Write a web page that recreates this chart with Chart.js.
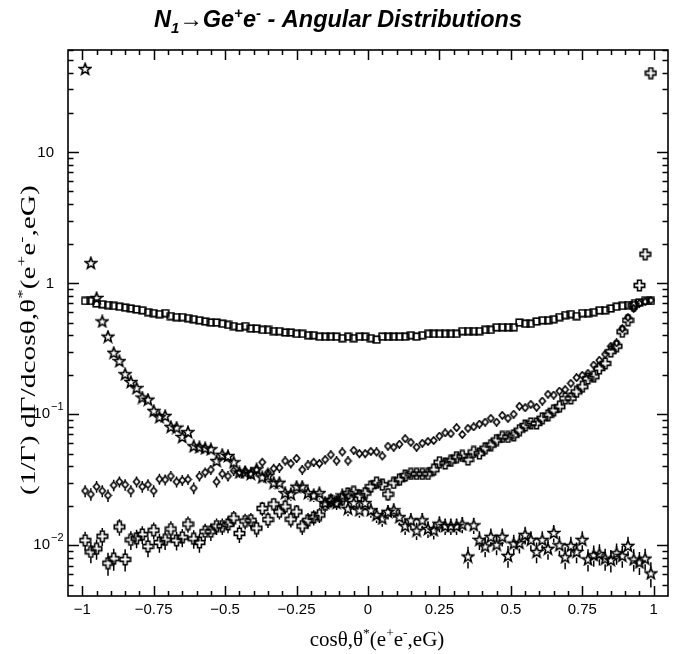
<!DOCTYPE html>
<html>
<head>
<meta charset="utf-8">
<script src="https://cdn.jsdelivr.net/npm/chart.js@4.4.1/dist/chart.umd.min.js"></script>
<style>
  html, body { margin: 0; padding: 0; background: #fff; }
  canvas { display: block; }
</style>
</head>
<body>
<canvas id="chart" width="673" height="654"></canvas>
<script>
'use strict';

// 100 bins in cos(theta*) from -1 to 1
var binLo = -1, binHi = 1, binCount = 100;

// open squares
var squareVals = [
  0.73, 0.73, 0.70, 0.69, 0.68, 0.67, 0.66, 0.65, 0.64, 0.63,
  0.62, 0.60, 0.59, 0.58, 0.59, 0.56, 0.55, 0.55, 0.54, 0.53,
  0.52, 0.51, 0.50, 0.50, 0.49, 0.48, 0.47, 0.46, 0.47, 0.45,
  0.45, 0.44, 0.44, 0.43, 0.43, 0.42, 0.42, 0.41, 0.41, 0.40,
  0.40, 0.39, 0.39, 0.39, 0.39, 0.38, 0.39, 0.38, 0.39, 0.39,
  0.38, 0.37, 0.39, 0.39, 0.39, 0.39, 0.39, 0.40, 0.39, 0.40,
  0.41, 0.41, 0.41, 0.41, 0.41, 0.41, 0.43, 0.43, 0.43, 0.43,
  0.44, 0.44, 0.46, 0.46, 0.46, 0.46, 0.50, 0.49, 0.49, 0.51,
  0.52, 0.52, 0.53, 0.55, 0.57, 0.58, 0.56, 0.59, 0.59, 0.60,
  0.62, 0.62, 0.64, 0.66, 0.67, 0.68, 0.68, 0.71, 0.73, 0.73
];

// open diamonds
var diamondVals = [
  0.026, 0.0245, 0.028, 0.026, 0.024, 0.0287, 0.0305, 0.029, 0.026, 0.0305,
  0.028, 0.029, 0.026, 0.032, 0.0316, 0.0337, 0.0305, 0.0313, 0.0318, 0.0273,
  0.0337, 0.036, 0.0377, 0.0305, 0.035, 0.0337, 0.037, 0.036, 0.037, 0.035,
  0.0375, 0.043, 0.036, 0.0385, 0.039, 0.044, 0.042, 0.046, 0.0377, 0.041,
  0.043, 0.042, 0.045, 0.049, 0.044, 0.0515, 0.044, 0.053, 0.050, 0.050,
  0.052, 0.0515, 0.048, 0.057, 0.056, 0.059, 0.065, 0.061, 0.056, 0.060,
  0.062, 0.063, 0.068, 0.072, 0.071, 0.079, 0.070, 0.078, 0.080, 0.084,
  0.087, 0.093, 0.087, 0.098, 0.093, 0.100, 0.115, 0.112, 0.119, 0.113,
  0.126, 0.142, 0.140, 0.150, 0.154, 0.172, 0.190, 0.198, 0.205, 0.237,
  0.258, 0.287, 0.330, 0.350, 0.450, 0.547, 0.640, 0.700, 0.720, 0.740
];

// open crosses
var crossVals = [
  0.0109, 0.0089, 0.0094, 0.0117, 0.0073, 0.0079, 0.0138, 0.0078, 0.0110, 0.0113,
  0.0121, 0.0098, 0.0130, 0.0105, 0.0110, 0.0133, 0.0109, 0.0115, 0.0145, 0.0112,
  0.0105, 0.0127, 0.0127, 0.0140, 0.0140, 0.0144, 0.0161, 0.0123, 0.0153, 0.0155,
  0.0135, 0.0191, 0.0157, 0.0206, 0.0180, 0.0197, 0.0158, 0.0180, 0.0140, 0.0155,
  0.0163, 0.0170, 0.0203, 0.0220, 0.0214, 0.0225, 0.0248, 0.0255, 0.0240, 0.0250,
  0.028, 0.030, 0.029, 0.0245, 0.0299, 0.0316, 0.034, 0.035, 0.035, 0.035,
  0.035, 0.0377, 0.043, 0.042, 0.044, 0.047, 0.048, 0.045, 0.0515, 0.050,
  0.055, 0.058, 0.0635, 0.067, 0.067, 0.069, 0.0755, 0.082, 0.085, 0.085,
  0.093, 0.098, 0.107, 0.114, 0.132, 0.132, 0.148, 0.162, 0.187, 0.193,
  0.223, 0.244, 0.300, 0.330, 0.425, 0.520, 0.680, 0.960, 1.66, 40
];

// open stars
var starVals = [
  43, 1.42, 0.77, 0.51, 0.39, 0.294, 0.254, 0.202, 0.176, 0.158,
  0.134, 0.129, 0.106, 0.095, 0.097, 0.080, 0.079, 0.067, 0.073, 0.057,
  0.056, 0.055, 0.054, 0.044, 0.049, 0.048, 0.043, 0.036, 0.036, 0.035,
  0.038, 0.033, 0.034, 0.030, 0.030, 0.025, 0.0245, 0.028, 0.028, 0.025,
  0.024, 0.025, 0.021, 0.022, 0.021, 0.024, 0.019, 0.021, 0.0185, 0.021,
  0.0185, 0.017, 0.016, 0.018, 0.0185, 0.0164, 0.014, 0.0155, 0.0129, 0.0155,
  0.0133, 0.013, 0.0146, 0.014, 0.014, 0.014, 0.0144, 0.0082, 0.0142, 0.011,
  0.0098, 0.0116, 0.0101, 0.0116, 0.0083, 0.0103, 0.0104, 0.012, 0.011, 0.0089,
  0.011, 0.0094, 0.0124, 0.010, 0.0081, 0.0099, 0.0089, 0.011, 0.0078, 0.0084,
  0.0086, 0.0079, 0.0077, 0.0087, 0.0083, 0.0099, 0.0078, 0.0074, 0.0079, 0.0061
];

// tick labels
var xTickValues = [-1, -0.75, -0.5, -0.25, 0, 0.25, 0.5, 0.75, 1];
var xTickLabels = ['\u22121', '\u22120.75', '\u22120.5', '\u22120.25', '0', '0.25', '0.5', '0.75', '1'];
var yTickValues = [0.01, 0.1, 1, 10];
var yTickBase = ['10', '10', '1', '10'];
var yTickExp = ['\u22122', '\u22121', '', ''];

// statistical error scale (abs error = sqrt(value * errScale))
var errScale = 2.9e-4;

var sansFont = '"Liberation Sans", Arial, Helvetica, sans-serif';
var serifFont = '"Liberation Serif", "Times New Roman", serif';

function binCenters() {
  var w = (binHi - binLo) / binCount, out = [];
  for (var i = 0; i < binCount; i++) out.push(+(binLo + (i + 0.5) * w).toFixed(3));
  return out;
}

function toPoints(vals) {
  var xs = binCenters();
  return vals.map(function(v, i) { return { x: xs[i], y: v }; });
}

function marker(size, draw) {
  var c = document.createElement('canvas');
  c.width = c.height = size;
  var g = c.getContext('2d');
  g.strokeStyle = '#000';
  g.lineWidth = 1.6;
  g.lineJoin = 'miter';
  draw(g, size / 2);
  return c;
}

var squareImg = marker(9, function(g) {
  g.strokeRect(1.2, 1.2, 6.6, 6.6);
});

var diamondImg = marker(9, function(g, c) {
  g.beginPath();
  g.moveTo(c, 0.9);
  g.lineTo(c + 3.1, c);
  g.lineTo(c, 9 - 0.9);
  g.lineTo(c - 3.1, c);
  g.closePath();
  g.stroke();
});

var crossImg = marker(13, function(g, c) {
  var a = 1.9, r = 5.2;
  var pts = [[-a, -r], [a, -r], [a, -a], [r, -a], [r, a], [a, a], [a, r], [-a, r], [-a, a], [-r, a], [-r, -a], [-a, -a]];
  g.beginPath();
  pts.forEach(function(p, i) {
    if (i === 0) g.moveTo(c + p[0], c + p[1]); else g.lineTo(c + p[0], c + p[1]);
  });
  g.closePath();
  g.stroke();
});

var starImg = marker(14, function(g, c) {
  var ro = 5.9, ri = 2.5;
  g.beginPath();
  for (var k = 0; k < 10; k++) {
    var ang = -Math.PI / 2 + k * Math.PI / 5;
    var r = k % 2 === 0 ? ro : ri;
    var px = c + r * Math.cos(ang), py = c + 0.4 + r * Math.sin(ang);
    if (k === 0) g.moveTo(px, py); else g.lineTo(px, py);
  }
  g.closePath();
  g.stroke();
});

function drawRich(ctx, parts, x, y, align) {
  var total = 0;
  parts.forEach(function(p) { ctx.font = p.font; p.w = ctx.measureText(p.t).width; total += p.w; });
  var cx = align === 'center' ? x - total / 2 : (align === 'right' ? x - total : x);
  ctx.textAlign = 'left';
  parts.forEach(function(p) {
    ctx.font = p.font;
    ctx.fillText(p.t, cx, y + (p.dy || 0));
    cx += p.w;
  });
}

var errorBars = {
  id: 'errorBars',
  beforeDatasetsDraw: function(chart) {
    var ctx = chart.ctx, ys = chart.scales.y;
    ctx.save();
    ctx.strokeStyle = '#000';
    ctx.lineWidth = 1.5;
    chart.data.datasets.forEach(function(ds, di) {
      var meta = chart.getDatasetMeta(di);
      var gap = ds.markerHalf;
      meta.data.forEach(function(pt, i) {
        var v = ds.data[i].y;
        var e = Math.sqrt(v * errScale);
        var yTop = ys.getPixelForValue(v + e);
        var yBot = ys.getPixelForValue(Math.max(v - e, ys.min));
        ctx.beginPath();
        if (pt.y - yTop > gap) { ctx.moveTo(pt.x, yTop); ctx.lineTo(pt.x, pt.y - gap); }
        if (yBot - pt.y > gap) { ctx.moveTo(pt.x, pt.y + gap); ctx.lineTo(pt.x, yBot); }
        ctx.stroke();
      });
    });
    ctx.restore();
  }
};

var rootFrame = {
  id: 'rootFrame',
  afterDraw: function(chart) {
    var ctx = chart.ctx, a = chart.chartArea;
    var xs = chart.scales.x, ys = chart.scales.y;
    ctx.save();
    ctx.strokeStyle = '#000';
    ctx.fillStyle = '#000';
    ctx.lineWidth = 1.6;
    ctx.strokeRect(a.left, a.top, a.right - a.left, a.bottom - a.top);

    // x ticks, every 0.05, major every 0.25, bottom and top
    ctx.lineWidth = 1.5;
    ctx.beginPath();
    for (var k = -21; k <= 21; k++) {
      var px = Math.round(xs.getPixelForValue(k * 0.05)) + 0.5;
      if (px < a.left + 1 || px > a.right - 1) continue;
      var len = (k % 5 === 0) ? 10 : 5;
      ctx.moveTo(px, a.bottom); ctx.lineTo(px, a.bottom - len);
      ctx.moveTo(px, a.top); ctx.lineTo(px, a.top + len);
    }
    // y ticks on log scale, left and right
    for (var d = -3; d <= 1; d++) {
      for (var m = 1; m <= 9; m++) {
        var v = m * Math.pow(10, d);
        if (v < ys.min || v > ys.max) continue;
        var py = Math.round(ys.getPixelForValue(v)) + 0.5;
        var ylen = m === 1 ? 11 : 5.5;
        ctx.moveTo(a.left, py); ctx.lineTo(a.left + ylen, py);
        ctx.moveTo(a.right, py); ctx.lineTo(a.right - ylen, py);
      }
    }
    ctx.stroke();

    // x labels
    ctx.font = '15px ' + sansFont;
    ctx.textAlign = 'center';
    ctx.textBaseline = 'alphabetic';
    xTickValues.forEach(function(v, i) {
      ctx.fillText(xTickLabels[i], xs.getPixelForValue(v), a.bottom + 18);
    });

    // y labels
    ctx.textBaseline = 'middle';
    yTickValues.forEach(function(v, i) {
      var py = ys.getPixelForValue(v);
      if (yTickExp[i]) {
        ctx.font = '15px ' + sansFont;
        ctx.textAlign = 'right';
        ctx.fillText(yTickBase[i], 50, py);
        ctx.font = '11px ' + sansFont;
        ctx.textAlign = 'left';
        ctx.fillText(yTickExp[i], 51, py - 7);
      } else {
        ctx.font = '15px ' + sansFont;
        ctx.textAlign = 'right';
        ctx.fillText(yTickBase[i], 54, py + 1);
      }
    });

    // title
    ctx.textBaseline = 'alphabetic';
    var tf = 'italic bold 23.5px ' + sansFont;
    var ts = 'italic bold 15px ' + sansFont;
    drawRich(ctx, [
      { t: 'N', font: tf },
      { t: '1', font: ts, dy: 6 },
      { t: '\u2192', font: '23.5px ' + sansFont },
      { t: 'Ge', font: tf },
      { t: '+', font: ts, dy: -9 },
      { t: 'e', font: tf },
      { t: '-', font: ts, dy: -9 },
      { t: ' - Angular Distributions', font: tf }
    ], 338, 27, 'center');

    // axis titles
    var af = '21px ' + serifFont;
    var as = '13.5px ' + serifFont;
    var axisParts = function(prefix) {
      return [
        { t: prefix, font: af },
        { t: '*', font: as, dy: -9 },
        { t: '(e', font: af },
        { t: '+', font: as, dy: -9 },
        { t: 'e', font: af },
        { t: '-', font: as, dy: -9 },
        { t: ',eG)', font: af }
      ];
    };
    drawRich(ctx, axisParts('cos\u03b8,\u03b8'), 377, 646, 'center');

    ctx.save();
    ctx.translate(35, 340);
    ctx.rotate(-Math.PI / 2);
    ctx.scale(1.4, 1);
    drawRich(ctx, axisParts('(1/\u0393) d\u0393/dcos\u03b8,\u03b8'), 0, 0, 'center');
    ctx.restore();

    ctx.restore();
  }
};

function series(vals, img, half) {
  return {
    data: toPoints(vals),
    pointStyle: img,
    pointRadius: 4,
    pointHoverRadius: 4,
    showLine: false,
    markerHalf: half
  };
}

var chart = new Chart(document.getElementById('chart').getContext('2d'), {
  type: 'scatter',
  data: {
    datasets: [
      series(squareVals, squareImg, 4),
      series(diamondVals, diamondImg, 4),
      series(crossVals, crossImg, 5.5),
      series(starVals, starImg, 5.5)
    ]
  },
  options: {
    responsive: false,
    animation: false,
    devicePixelRatio: 1,
    layout: { padding: { left: 68, right: 2, top: 50, bottom: 58 } },
    plugins: {
      legend: { display: false },
      tooltip: { enabled: false },
      title: { display: false }
    },
    scales: {
      x: { type: 'linear', min: -1.05, max: 1.05, display: false },
      y: { type: 'logarithmic', min: 0.0041, max: 60, display: false }
    }
  },
  plugins: [errorBars, rootFrame]
});
</script>
</body>
</html>
